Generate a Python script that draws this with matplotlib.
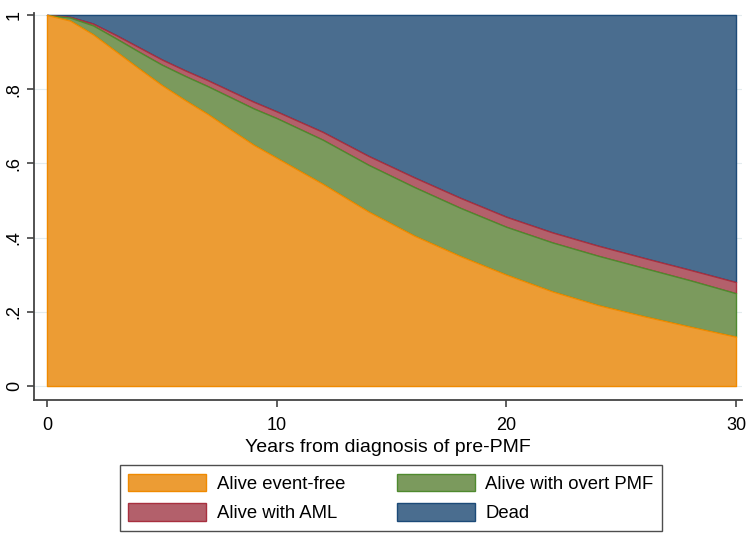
import matplotlib
matplotlib.use('Agg')
import numpy as np
import matplotlib.pyplot as plt

plt.rcParams['font.family'] = ['Liberation Sans', 'DejaVu Sans']

# years from diagnosis
years = [0, 1, 2, 3, 4, 5, 6, 7, 8, 9, 10, 12, 14, 16, 18, 20, 22, 24, 26, 28, 30]

# state probabilities
event_free = [1.0, .985, .948, .902, .856, .811, .771, .733, .691, .650, .615,
              .545, .470, .405, .350, .300, .255, .218, .188, .160, .133]
overt_pmf = [0.0, .008, .024, .035, .045, .055, .065, .075, .087, .098, .107,
             .119, .126, .131, .130, .129, .132, .133, .130, .125, .117]
aml = [0.0, .002, .005, .009, .012, .014, .015, .016, .017, .018, .018,
       .021, .024, .026, .027, .027, .027, .027, .027, .028, .030]
dead = [1 - a - b - c for a, b, c in zip(event_free, overt_pmf, aml)]

labels = ['Alive event-free', 'Alive with overt PMF', 'Alive with AML', 'Dead']
fills = ['#EC9C34', '#7B9A5D', '#B3606B', '#4A6D8F']
edges = ['#F08A00', '#4F8A2E', '#A8303F', '#1C4A78']

fig = plt.figure(figsize=(7.5, 5.33), dpi=100)
ax = fig.add_axes([0.0453, 0.2495, 0.944, 0.7259])

polys = ax.stackplot(years, event_free, overt_pmf, aml, dead,
                     colors=fills, labels=labels)
# lower layers on top so each layer keeps its own upper outline
for i, (p, ec) in enumerate(zip(polys, edges)):
    p.set_edgecolor(ec)
    p.set_linewidth(1.0)
    p.set_zorder(6 - i)

ax.set_xlim(-0.566, 30.26)
ax.set_ylim(-0.0377, 1.005)

ax.set_xticks([0, 10, 20, 30])
ax.set_yticks([0, .2, .4, .6, .8, 1])
ax.set_yticklabels(['0', '.2', '.4', '.6', '.8', '1'], rotation=90, va='center')
ax.tick_params(axis='both', labelsize=13, length=5, width=1.1, color='#333333',
               labelcolor='black')
ax.tick_params(axis='y', pad=3)
ax.tick_params(axis='x', pad=7.5)
ax.set_xlabel('Years from diagnosis of pre-PMF', fontsize=14, labelpad=3)

ax.grid(axis='y', color='#e3ecee', linewidth=0.8, zorder=0)
ax.set_axisbelow(True)
for s in ['top', 'right']:
    ax.spines[s].set_visible(False)
for s in ['left', 'bottom']:
    ax.spines[s].set_linewidth(1.3)
    ax.spines[s].set_color('#444444')

# legend: rows are (event-free, overt PMF) and (AML, dead)
handles = [polys[0], polys[2], polys[1], polys[3]]
leg_labels = [labels[0], labels[2], labels[1], labels[3]]
leg = fig.legend(handles, leg_labels, ncol=2, loc='center',
                 bbox_to_anchor=(0.521, 0.0657), bbox_transform=fig.transFigure,
                 fontsize=13.3, handlelength=4.25, handleheight=1.1,
                 handletextpad=0.55, columnspacing=2.8, labelspacing=0.55,
                 borderpad=0.45, borderaxespad=0, fancybox=False, frameon=True)
leg.get_frame().set_edgecolor('#222222')
leg.get_frame().set_linewidth(1.0)

fig.savefig('out.png', dpi=100)
